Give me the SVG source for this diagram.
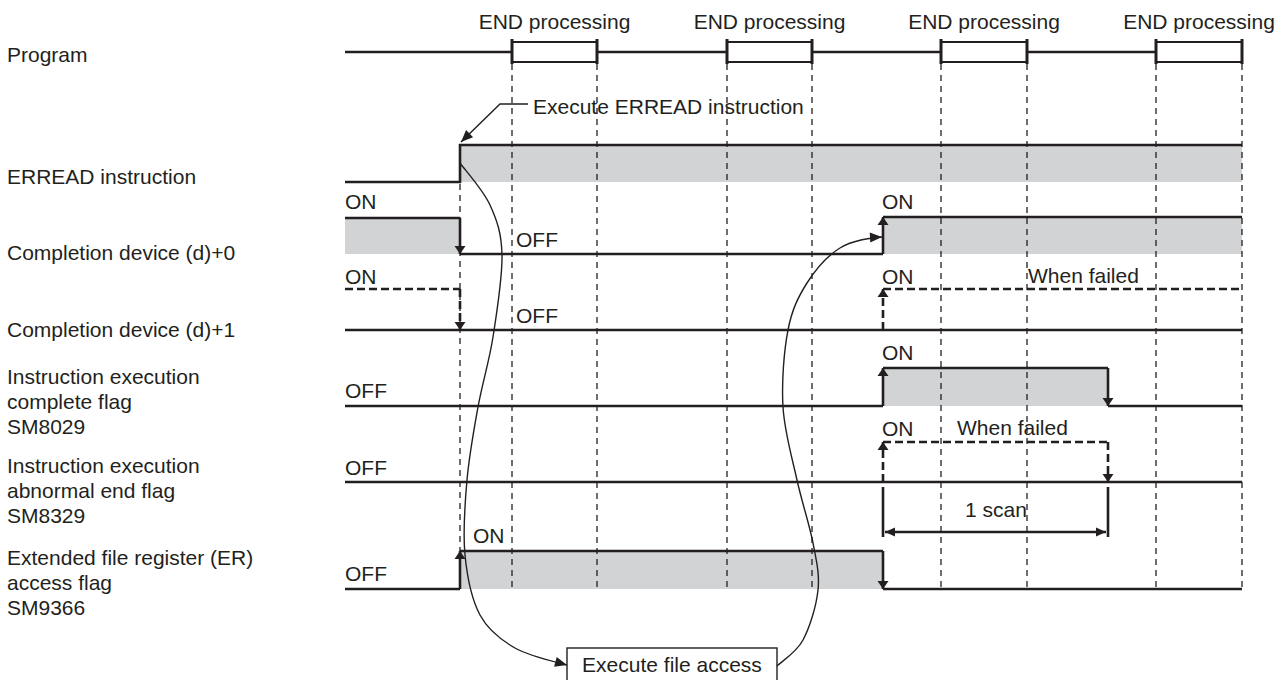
<svg xmlns="http://www.w3.org/2000/svg" width="1285" height="680" viewBox="0 0 1285 680">
<style>
text{font-family:"Liberation Sans",Arial,sans-serif;font-size:21px;fill:#231f20}
.sig{stroke:#231f20;stroke-width:2.6;fill:none}
.sigd{stroke:#231f20;stroke-width:2.6;fill:none;stroke-dasharray:8 4}
.ref{stroke:#231f20;stroke-width:1.3;fill:none;stroke-dasharray:6 5}
.gray{fill:#d1d3d4;stroke:none}
.thin{stroke:#231f20;stroke-width:1.4;fill:none}
.edge{marker-end:url(#sa)}
</style>
<defs>
<marker id="sa" markerUnits="userSpaceOnUse" markerWidth="14" markerHeight="14" viewBox="-10 -7 12 14" refX="0" refY="0" orient="auto">
<path d="M0,0 L-8,-5.5 L-8,5.5 Z" fill="#231f20"/>
</marker>
<marker id="la" markerUnits="userSpaceOnUse" markerWidth="16" markerHeight="16" viewBox="-14 -8 16 16" refX="0" refY="0" orient="auto">
<path d="M0,0 L-12,-5 L-12,5 Z" fill="#231f20"/>
</marker>
<marker id="da" markerUnits="userSpaceOnUse" markerWidth="14" markerHeight="14" viewBox="-12 -7 14 14" refX="0" refY="0" orient="auto-start-reverse">
<path d="M0,0 L-10,-4.5 L-10,4.5 Z" fill="#231f20"/>
</marker>
</defs>

<!-- gray fills -->
<g id="fills">
<rect class="gray" x="460" y="145" width="782" height="37"/>
<rect class="gray" x="345" y="218" width="115" height="36"/>
<rect class="gray" x="883" y="217" width="359" height="37"/>
<rect class="gray" x="883" y="368" width="225" height="38"/>
<rect class="gray" x="460" y="551" width="423" height="38"/>
</g>

<!-- reference dashed lines -->
<g id="grid">
<line class="ref" x1="512" y1="64" x2="512" y2="590"/>
<line class="ref" x1="597" y1="64" x2="597" y2="590"/>
<line class="ref" x1="727" y1="64" x2="727" y2="590"/>
<line class="ref" x1="812" y1="64" x2="812" y2="590"/>
<line class="ref" x1="941" y1="64" x2="941" y2="590"/>
<line class="ref" x1="1027" y1="64" x2="1027" y2="590"/>
<line class="ref" x1="1156" y1="64" x2="1156" y2="590"/>
<line class="ref" x1="1242" y1="64" x2="1242" y2="590"/>
<line class="ref" x1="460" y1="184" x2="460" y2="551"/>
</g>

<!-- Program row -->
<g id="program">
<text x="7" y="62">Program</text>
<line class="sig" x1="345" y1="52" x2="1242" y2="52" stroke-width="2"/>
<g stroke="#231f20" fill="#fff">
<rect x="512" y="42" width="85" height="20" stroke-width="2"/>
<rect x="727" y="42" width="85" height="20" stroke-width="2"/>
<rect x="941" y="42" width="86" height="20" stroke-width="2"/>
<rect x="1156" y="42" width="86" height="20" stroke-width="2"/>
</g>
<g stroke="#231f20" stroke-width="3">
<line x1="512" y1="39" x2="512" y2="64"/><line x1="597" y1="39" x2="597" y2="64"/>
<line x1="727" y1="39" x2="727" y2="64"/><line x1="812" y1="39" x2="812" y2="64"/>
<line x1="941" y1="39" x2="941" y2="64"/><line x1="1027" y1="39" x2="1027" y2="64"/>
<line x1="1156" y1="39" x2="1156" y2="64"/><line x1="1242" y1="39" x2="1242" y2="64"/>
</g>
<g text-anchor="middle">
<text x="554.5" y="29">END processing</text>
<text x="769.5" y="29">END processing</text>
<text x="984" y="29">END processing</text>
<text x="1199" y="29">END processing</text>
</g>
</g>

<!-- ERREAD instruction -->
<g id="erread">
<text x="7" y="184">ERREAD instruction</text>
<path class="sig" d="M345,182 H460 V145 H1242"/>
<text x="533" y="114">Execute ERREAD instruction</text>
</g>

<!-- Completion device (d)+0 -->
<g id="d0">
<text x="7" y="260">Completion device (d)+0</text>
<path class="sig" d="M345,218 H460"/>
<path class="sig edge" d="M460,218 V254"/>
<path class="sig" d="M460,254 H883"/>
<path class="sig edge" d="M883,254 V217"/>
<path class="sig" d="M883,217 H1242"/>
<text x="345" y="209">ON</text>
<text x="516" y="247">OFF</text>
<text x="882" y="209">ON</text>
</g>

<!-- Completion device (d)+1 -->
<g id="d1">
<text x="7" y="337">Completion device (d)+1</text>
<path class="sigd" d="M345,289 H460"/>
<path class="sigd edge" d="M460,289 V330"/>
<path class="sig" d="M345,330 H1242"/>
<path class="sigd edge" d="M883,330 V289"/>
<path class="sigd" d="M883,289 H1242"/>
<text x="345" y="284">ON</text>
<text x="516" y="323">OFF</text>
<text x="882" y="284">ON</text>
<text x="1028" y="283">When failed</text>
</g>

<!-- SM8029 -->
<g id="sm8029">
<text x="7" y="384">Instruction execution</text>
<text x="7" y="409">complete flag</text>
<text x="7" y="434">SM8029</text>
<path class="sig" d="M345,406 H883"/>
<path class="sig edge" d="M883,406 V368"/>
<path class="sig" d="M883,368 H1108"/>
<path class="sig edge" d="M1108,368 V406"/>
<path class="sig" d="M1108,406 H1242"/>
<text x="345" y="398">OFF</text>
<text x="882" y="360">ON</text>
</g>

<!-- SM8329 -->
<g id="sm8329">
<text x="7" y="473">Instruction execution</text>
<text x="7" y="498">abnormal end flag</text>
<text x="7" y="523">SM8329</text>
<path class="sig" d="M345,482 H1242"/>
<path class="sigd edge" d="M883,482 V442"/>
<path class="sigd" d="M883,442 H1108"/>
<path class="sigd edge" d="M1108,442 V482"/>
<text x="345" y="475">OFF</text>
<text x="882" y="436">ON</text>
<text x="957" y="435">When failed</text>
</g>

<!-- 1 scan -->
<g id="scan">
<line class="sig" x1="883" y1="487" x2="883" y2="537"/>
<line class="sig" x1="1108" y1="487" x2="1108" y2="537"/>
<line class="sig" x1="885" y1="532" x2="1106" y2="532" stroke-width="2" marker-start="url(#da)" marker-end="url(#da)"/>
<text x="965" y="517">1 scan</text>
</g>

<!-- SM9366 -->
<g id="sm9366">
<text x="7" y="565">Extended file register (ER)</text>
<text x="7" y="590">access flag</text>
<text x="7" y="615">SM9366</text>
<path class="sig" d="M345,589 H460"/>
<path class="sig edge" d="M460,589 V551"/>
<path class="sig" d="M460,551 H883"/>
<path class="sig edge" d="M883,551 V589"/>
<path class="sig" d="M883,589 H1242"/>
<text x="473" y="543">ON</text>
<text x="345" y="581">OFF</text>
</g>

<!-- Execute file access box -->
<g id="fileaccess">
<rect x="567" y="648" width="210" height="40" fill="#fff" stroke="#231f20" stroke-width="1.4"/>
<text x="672" y="672" text-anchor="middle">Execute file access</text>
</g>

<!-- connectors -->
<g id="connectors">
<path class="thin" d="M528,104 H500 L461,142" marker-end="url(#la)"/>
<path class="thin" marker-end="url(#la)" d="M460,163 C465,170 483,189.7 490,205 C497,220.3 501.5,233 502,255 C502.5,277 497,311.7 493,337 C489,362.3 482.3,383.2 478,407 C473.7,430.8 469.2,455.3 467,480 C464.8,504.7 462.8,532.5 465,555 C467.2,577.5 471.7,599.5 480,615 C488.3,630.5 500.5,639.7 515,648 C529.5,656.3 556,662 567,665"/>
<path class="thin" marker-end="url(#la)" d="M777,666 C781.3,661.7 796.2,652.7 803,640 C809.8,627.3 816.3,606.2 818,590 C819.7,573.8 816.5,561.3 813,543 C809.5,524.7 802,502.7 797,480 C792,457.3 784.5,432 783,407 C781.5,382 784,350.7 788,330 C792,309.3 798.3,296.7 807,283 C815.7,269.3 827.5,255.7 840,248 C852.5,240.3 872,237.5 882,237"/>
</g>
</svg>
